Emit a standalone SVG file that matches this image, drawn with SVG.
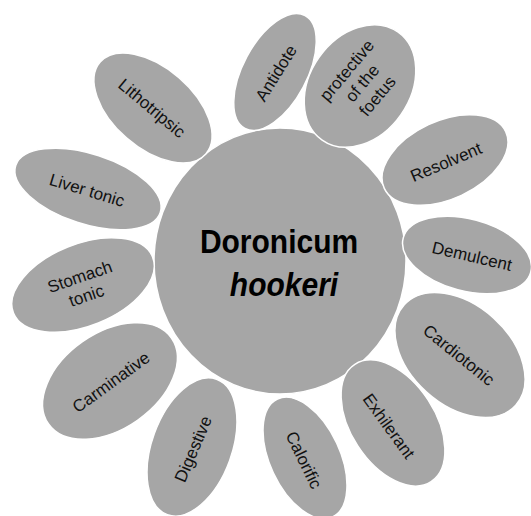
<svg xmlns="http://www.w3.org/2000/svg" width="531" height="516" viewBox="0 0 531 516">
<style>
.petal{fill:#a6a6a6;stroke:#fff;stroke-width:1.5}
.lbl{font-family:"Liberation Sans",Arial,sans-serif;font-size:17px;fill:#111;text-anchor:middle}
.hubt{font-family:"Liberation Sans",Arial,sans-serif;font-size:30px;font-weight:bold;fill:#000;text-anchor:middle}
</style>
<rect width="531" height="516" fill="#fff"/>
<g id="center">
<ellipse class="petal" cx="280" cy="261" rx="126" ry="133"/>
<text class="hubt" transform="translate(279,253) scale(1,1.1)">Doronicum</text>
<text class="hubt" transform="translate(284,296) scale(1,1.1)" font-style="italic">hookeri</text>
</g>
<g id="connectors"></g>
<g id="lithotripsic">
<ellipse class="petal" rx="70" ry="40" transform="translate(153,108) rotate(41)"/>
<text class="lbl" transform="translate(152,108) rotate(40)" dy="6">Lithotripsic</text>
</g>
<g id="antidote">
<ellipse class="petal" rx="64" ry="32" transform="translate(275,72) rotate(-62)"/>
<text class="lbl" transform="translate(276,73) rotate(-58)" dy="6">Antidote</text>
</g>
<g id="protective">
<ellipse class="petal" rx="66" ry="50" transform="translate(360,86) rotate(-55)"/>
<text class="lbl" transform="translate(362,83) rotate(-50)"><tspan x="0" y="-14">protective</tspan><tspan x="0" y="6">of the</tspan><tspan x="0" y="26">foetus</tspan></text>
</g>
<g id="resolvent">
<ellipse class="petal" rx="67" ry="39" transform="translate(445,160) rotate(-25)"/>
<text class="lbl" transform="translate(446,162) rotate(-23)" dy="6">Resolvent</text>
</g>
<g id="demulcent">
<ellipse class="petal" rx="66" ry="36" transform="translate(467,255) rotate(15)"/>
<text class="lbl" transform="translate(472,256) rotate(13)" dy="6">Demulcent</text>
</g>
<g id="cardiotonic">
<ellipse class="petal" rx="75" ry="50" transform="translate(460,355) rotate(42)"/>
<text class="lbl" transform="translate(459,355) rotate(39)" dy="6">Cardiotonic</text>
</g>
<g id="exhilerant">
<ellipse class="petal" rx="70" ry="42" transform="translate(393,423) rotate(57)"/>
<text class="lbl" transform="translate(389,426) rotate(54)" dy="6">Exhilerant</text>
</g>
<g id="calorific">
<ellipse class="petal" rx="65" ry="35" transform="translate(305,458) rotate(65)"/>
<text class="lbl" transform="translate(304,460) rotate(64)" dy="6">Calorific</text>
</g>
<g id="digestive">
<ellipse class="petal" rx="72" ry="40" transform="translate(192,447) rotate(-70)"/>
<text class="lbl" transform="translate(193,449) rotate(-67)" dy="6">Digestive</text>
</g>
<g id="carminative">
<ellipse class="petal" rx="75" ry="48" transform="translate(110,381) rotate(-35)"/>
<text class="lbl" transform="translate(111,382) rotate(-36)" dy="6">Carminative</text>
</g>
<g id="stomach">
<ellipse class="petal" rx="75" ry="41" transform="translate(83,285) rotate(-22)"/>
<text class="lbl" transform="translate(83,286) rotate(-19)"><tspan x="0" y="-4">Stomach</tspan><tspan x="0" y="16">tonic</tspan></text>
</g>
<g id="liver">
<ellipse class="petal" rx="76" ry="35" transform="translate(88,189) rotate(18)"/>
<text class="lbl" transform="translate(87,190) rotate(17)" dy="6">Liver tonic</text>
</g>
</svg>
